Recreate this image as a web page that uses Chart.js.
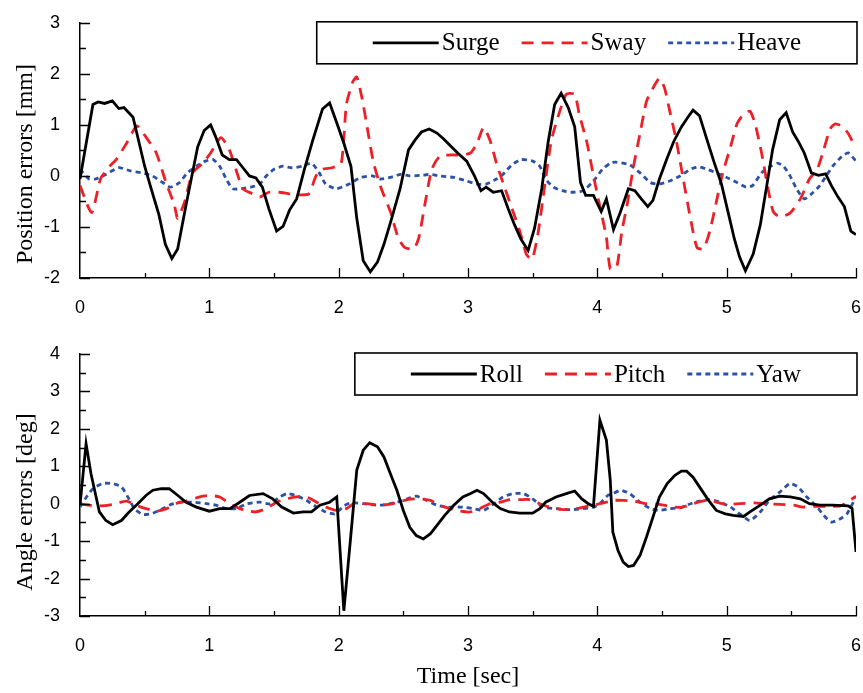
<!DOCTYPE html>
<html>
<head>
<meta charset="utf-8">
<script src="https://cdn.jsdelivr.net/npm/chart.js@4.4.1/dist/chart.umd.min.js"></script>
<style>
  html, body { margin: 0; padding: 0; background: #fff; }
  #wrap { position: relative; width: 863px; height: 693px; }
  canvas { position: absolute; left: 0; }
</style>
</head>
<body>
<div id="wrap">
  <canvas id="posChart" width="863" height="320" style="top:0px"></canvas>
  <canvas id="angChart" width="863" height="373" style="top:320px"></canvas>
</div>
<script>
// time [sec] / value pairs
const surgeT = [0,0.1,0.14,0.19,0.25,0.3,0.34,0.41,0.5,0.55,0.61,0.66,0.71,0.755,0.82,0.91,0.96,1.01,1.05,1.1,1.155,1.21,1.26,1.31,1.36,1.41,1.46,1.52,1.57,1.62,1.675,1.735,1.8,1.875,1.93,1.985,2.04,2.095,2.14,2.19,2.245,2.3,2.35,2.41,2.475,2.54,2.59,2.64,2.7,2.76,2.81,2.86,2.92,2.99,3.05,3.1,3.14,3.195,3.26,3.31,3.36,3.41,3.465,3.515,3.57,3.62,3.67,3.72,3.775,3.825,3.87,3.91,3.97,4.03,4.07,4.125,4.175,4.24,4.29,4.34,4.39,4.43,4.48,4.54,4.59,4.65,4.7,4.74,4.79,4.845,4.905,4.96,5.01,5.06,5.1,5.145,5.205,5.26,5.31,5.355,5.41,5.46,5.51,5.555,5.6,5.655,5.71,5.765,5.81,5.86,5.91,5.96,6.0];
const surgeV = [-0.06,1.4,1.45,1.42,1.47,1.32,1.34,1.15,0.19,-0.25,-0.76,-1.34,-1.62,-1.43,-0.57,0.57,0.89,1.0,0.76,0.41,0.32,0.32,0.16,0.0,-0.04,-0.22,-0.64,-1.08,-0.99,-0.67,-0.45,0.13,0.7,1.31,1.43,1.04,0.64,0.19,-0.83,-1.66,-1.88,-1.69,-1.34,-0.83,-0.25,0.51,0.7,0.86,0.92,0.84,0.73,0.6,0.45,0.29,0.0,-0.29,-0.22,-0.32,-0.29,-0.64,-0.96,-1.24,-1.46,-1.02,-0.25,0.67,1.4,1.62,1.34,0.96,-0.13,-0.38,-0.38,-0.7,-0.45,-1.05,-0.73,-0.25,-0.29,-0.45,-0.6,-0.48,-0.06,0.35,0.67,0.96,1.15,1.29,1.18,0.73,0.25,-0.16,-0.7,-1.24,-1.59,-1.86,-1.53,-0.96,-0.19,0.51,1.1,1.24,0.86,0.67,0.45,0.06,0.01,0.04,-0.19,-0.41,-0.6,-1.08,-1.15];

const swayT = [0,0.09,0.16,0.23,0.28,0.36,0.44,0.51,0.59,0.665,0.73,0.755,0.81,0.87,0.95,1.01,1.09,1.155,1.205,1.26,1.335,1.39,1.46,1.54,1.62,1.7,1.77,1.825,1.875,1.95,2.02,2.06,2.11,2.14,2.18,2.22,2.27,2.33,2.4,2.46,2.51,2.58,2.62,2.67,2.72,2.78,2.86,2.96,3.02,3.07,3.12,3.17,3.22,3.27,3.34,3.4,3.45,3.48,3.5,3.54,3.59,3.645,3.71,3.76,3.825,3.86,3.92,3.97,4.02,4.07,4.1,4.15,4.19,4.23,4.28,4.33,4.38,4.43,4.48,4.52,4.56,4.61,4.66,4.72,4.77,4.82,4.87,4.92,4.97,5.03,5.08,5.13,5.18,5.22,5.27,5.32,5.36,5.41,5.49,5.57,5.64,5.7,5.75,5.8,5.84,5.9,5.94,5.98,6.0];
const swayV = [-0.19,-0.72,-0.05,0.19,0.32,0.64,0.98,0.76,0.45,-0.13,-0.57,-0.83,-0.5,0.06,0.25,0.45,0.75,0.51,0.13,-0.25,-0.35,-0.41,-0.32,-0.32,-0.35,-0.37,-0.35,0.0,0.13,0.16,0.25,1.4,1.85,1.94,1.53,0.96,0.25,-0.25,-0.7,-1.21,-1.4,-1.43,-1.21,-0.51,0.13,0.38,0.41,0.41,0.45,0.64,0.95,0.7,0.25,-0.13,-0.64,-1.08,-1.53,-1.62,-1.62,-1.15,-0.25,0.7,1.27,1.6,1.6,1.21,0.65,0.0,-0.6,-1.2,-1.82,-1.78,-1.08,-0.57,0.19,0.83,1.46,1.72,1.91,1.72,1.27,0.7,0.0,-0.83,-1.4,-1.43,-1.08,-0.51,0.06,0.57,1.02,1.21,1.27,1.02,0.45,-0.25,-0.7,-0.8,-0.73,-0.45,-0.06,0.13,0.51,0.92,1.02,0.96,0.83,0.64,0.55];

const heaveT = [0,0.07,0.12,0.2,0.3,0.39,0.48,0.56,0.64,0.7,0.77,0.83,0.9,0.97,1.03,1.08,1.13,1.18,1.245,1.32,1.39,1.44,1.5,1.57,1.64,1.72,1.79,1.85,1.9,1.98,2.08,2.17,2.26,2.32,2.4,2.48,2.55,2.63,2.71,2.78,2.89,2.99,3.07,3.14,3.22,3.27,3.34,3.41,3.5,3.555,3.6,3.66,3.73,3.81,3.89,3.97,4.04,4.1,4.14,4.25,4.33,4.41,4.48,4.56,4.64,4.72,4.78,4.85,4.92,5.0,5.08,5.15,5.2,5.27,5.34,5.39,5.44,5.49,5.54,5.6,5.67,5.72,5.77,5.82,5.89,5.94,6.0];
const heaveV = [0.13,-0.06,-0.06,0.03,0.16,0.1,0.06,0.0,-0.13,-0.22,-0.13,0.06,0.19,0.29,0.32,0.19,-0.06,-0.25,-0.25,-0.22,-0.16,0.0,0.13,0.19,0.16,0.19,0.25,0.06,-0.16,-0.25,-0.16,-0.03,0.0,-0.06,-0.03,0.03,0.0,0.01,0.03,0.0,-0.03,-0.1,-0.16,-0.16,-0.06,0.03,0.22,0.32,0.29,0.19,-0.06,-0.22,-0.29,-0.32,-0.29,-0.1,0.13,0.25,0.27,0.22,0.06,-0.13,-0.16,-0.1,0.0,0.13,0.18,0.13,0.06,-0.03,-0.13,-0.22,-0.19,0.06,0.19,0.25,0.19,0.0,-0.25,-0.45,-0.32,-0.19,0.0,0.19,0.38,0.45,0.29];

const rollT = [0,0.047,0.085,0.15,0.2,0.253,0.32,0.38,0.447,0.51,0.563,0.628,0.69,0.757,0.82,0.9,1.0,1.08,1.16,1.235,1.31,1.416,1.49,1.56,1.65,1.726,1.79,1.855,1.93,1.985,2.04,2.09,2.14,2.19,2.24,2.3,2.35,2.4,2.45,2.5,2.55,2.6,2.655,2.71,2.76,2.82,2.89,2.96,3.02,3.07,3.12,3.2,3.25,3.32,3.4,3.5,3.555,3.6,3.68,3.76,3.825,3.88,3.93,3.97,4.02,4.07,4.1,4.12,4.16,4.2,4.24,4.28,4.33,4.38,4.43,4.48,4.54,4.6,4.65,4.69,4.74,4.79,4.86,4.92,4.99,5.05,5.13,5.18,5.26,5.33,5.41,5.49,5.57,5.64,5.72,5.82,5.94,5.97,6.0];
const rollV = [-0.04,1.6,0.8,-0.22,-0.45,-0.56,-0.45,-0.22,0.0,0.22,0.36,0.4,0.4,0.22,0.04,-0.09,-0.2,-0.13,-0.13,0.04,0.22,0.27,0.13,-0.09,-0.25,-0.22,-0.22,-0.04,0.04,0.18,-2.86,-1.0,0.9,1.43,1.63,1.52,1.25,0.8,0.36,-0.18,-0.63,-0.85,-0.94,-0.8,-0.58,-0.31,-0.04,0.18,0.27,0.36,0.27,0.0,-0.13,-0.22,-0.25,-0.25,-0.13,0.04,0.18,0.27,0.34,0.13,0.0,-0.07,2.23,1.7,0.63,-0.76,-1.25,-1.56,-1.68,-1.65,-1.38,-0.89,-0.36,0.18,0.54,0.76,0.87,0.87,0.71,0.45,0.09,-0.18,-0.27,-0.31,-0.34,-0.22,-0.04,0.13,0.2,0.18,0.13,0.0,-0.04,-0.04,-0.06,-0.13,-1.29];

const pitchT = [0,0.07,0.15,0.25,0.36,0.43,0.51,0.59,0.67,0.74,0.82,0.925,1.0,1.08,1.16,1.235,1.31,1.36,1.44,1.52,1.6,1.67,1.75,1.83,1.9,1.985,2.06,2.12,2.22,2.32,2.42,2.53,2.63,2.71,2.78,2.86,2.94,3.02,3.09,3.17,3.25,3.32,3.4,3.48,3.555,3.63,3.74,3.84,3.94,4.02,4.09,4.12,4.2,4.28,4.38,4.48,4.59,4.66,4.74,4.85,4.92,5.0,5.1,5.21,5.31,5.41,5.52,5.59,5.67,5.77,5.88,5.93,6.0];
const pitchV = [0,-0.04,-0.06,-0.02,0.07,-0.04,-0.13,-0.2,-0.13,0.0,0.07,0.18,0.22,0.18,0.0,-0.13,-0.2,-0.22,-0.13,0.04,0.13,0.18,0.18,0.04,-0.09,-0.18,-0.13,0.0,0.0,-0.04,0.0,0.11,0.13,0.09,-0.04,-0.13,-0.2,-0.22,-0.13,0.0,0.04,0.11,0.11,0.11,0.0,-0.09,-0.16,-0.13,-0.06,0.0,0.06,0.09,0.09,0.07,0.0,-0.02,-0.09,-0.09,0.0,0.09,0.04,-0.02,0.0,0.02,0.0,-0.02,-0.04,-0.09,-0.07,-0.07,-0.06,0.04,0.2];

const yawT = [0,0.05,0.1,0.175,0.25,0.32,0.37,0.42,0.486,0.55,0.615,0.69,0.77,0.87,0.98,1.05,1.13,1.21,1.29,1.39,1.47,1.545,1.6,1.67,1.75,1.83,1.9,1.97,2.04,2.1,2.19,2.32,2.45,2.53,2.6,2.68,2.76,2.84,2.96,3.04,3.12,3.2,3.27,3.35,3.43,3.5,3.58,3.68,3.79,3.89,3.97,4.02,4.08,4.11,4.18,4.25,4.33,4.41,4.48,4.56,4.64,4.72,4.79,4.87,4.95,5.03,5.1,5.18,5.26,5.33,5.41,5.49,5.55,5.62,5.7,5.75,5.81,5.88,5.93,6.0];
const yawV = [-0.09,0.18,0.4,0.54,0.54,0.45,0.18,-0.13,-0.29,-0.27,-0.18,-0.04,0.04,0.04,0.0,-0.04,-0.13,-0.13,0.0,0.04,0.0,0.18,0.27,0.22,0.09,-0.09,-0.22,-0.27,-0.06,0.03,0.0,-0.04,0.04,0.13,0.2,0.09,-0.04,-0.09,-0.09,-0.13,-0.18,0.0,0.18,0.27,0.27,0.13,-0.09,-0.13,-0.16,-0.13,-0.09,0.0,0.22,0.25,0.36,0.27,0.04,-0.13,-0.18,-0.13,-0.11,0.0,0.07,0.11,0.04,-0.09,-0.27,-0.45,-0.22,0.09,0.31,0.54,0.45,0.18,-0.09,-0.31,-0.49,-0.4,-0.27,0.18];

const xTicks = [0, 1, 2, 3, 4, 5, 6];

const RED = "rgb(236,32,38)";
const BLUE = "rgb(44,82,166)";
const SERIF = '"Liberation Serif", "Times New Roman", serif';
const SANS = '"Liberation Sans", Arial, sans-serif';

function pts(t, v) {
    return t.map((x, i) => ({ x: x, y: v[i] }));
}

function lineSet(label, t, v, color, dash, tension) {
    return {
        label: label,
        data: pts(t, v),
        borderColor: color,
        backgroundColor: color,
        borderWidth: 2.8,
        borderDash: dash,
        pointRadius: 0,
        tension: tension,
        fill: false
    };
}

// small inward ticks, like the original plot
const innerTicks = {
    id: "innerTicks",
    afterDraw(chart) {
        const ctx = chart.ctx;
        const xs = chart.scales.x, ys = chart.scales.y;
        ctx.save();
        ctx.strokeStyle = "#000";
        ctx.lineWidth = 1.3;
        ctx.beginPath();
        for (let v = ys.min; v <= ys.max + 1e-9; v += 0.5) {
            const y = Math.round(ys.getPixelForValue(v)) + 0.5;
            const len = Number.isInteger(v) ? 10 : 6;
            ctx.moveTo(xs.left, y);
            ctx.lineTo(xs.left + len, y);
        }
        for (let t = xs.min + 0.5; t <= xs.max + 1e-9; t += 0.5) {
            const x = Math.round(xs.getPixelForValue(t)) + 0.5;
            const len = Number.isInteger(t) ? 10 : 5;
            ctx.moveTo(x, ys.bottom);
            ctx.lineTo(x, ys.bottom - len);
        }
        ctx.stroke();
        ctx.restore();
    }
};

// boxed legend at the top-right of the plot area
const boxLegend = {
    id: "boxLegend",
    afterDraw(chart) {
        const ctx = chart.ctx;
        const area = chart.chartArea;
        const sets = chart.data.datasets;
        const lineLen = 66, gap = 3, spacing = 22, pad = 56, h = 42;
        ctx.save();
        ctx.font = "25px " + SERIF;
        let total = pad * 2;
        sets.forEach((d, i) => {
            total += lineLen + gap + ctx.measureText(d.label).width;
            if (i < sets.length - 1) total += spacing;
        });
        const right = area.right + 1;
        const left = right - total;
        const top = area.top - 1;
        ctx.fillStyle = "#fff";
        ctx.fillRect(left, top, total, h);
        ctx.strokeStyle = "#000";
        ctx.lineWidth = 1.6;
        ctx.strokeRect(left, top, total, h);
        const cy = top + h / 2;
        let x = left + pad;
        sets.forEach(d => {
            ctx.beginPath();
            ctx.setLineDash(d.borderDash || []);
            ctx.strokeStyle = d.borderColor;
            ctx.lineWidth = 2.8;
            ctx.moveTo(x, cy);
            ctx.lineTo(x + lineLen, cy);
            ctx.stroke();
            ctx.setLineDash([]);
            x += lineLen + gap;
            ctx.fillStyle = "#000";
            ctx.textBaseline = "middle";
            ctx.textAlign = "left";
            ctx.fillText(d.label, x, cy + 1);
            x += ctx.measureText(d.label).width + spacing;
        });
        ctx.restore();
    }
};

function yTitle(text, cy) {
    return {
        id: "yTitle",
        afterDraw(chart) {
            const ctx = chart.ctx;
            ctx.save();
            ctx.translate(32, cy);
            ctx.rotate(-Math.PI / 2);
            ctx.font = "24px " + SERIF;
            ctx.fillStyle = "#000";
            ctx.textAlign = "center";
            ctx.textBaseline = "alphabetic";
            ctx.fillText(text, 0, 0);
            ctx.restore();
        }
    };
}

function makeChart(id, datasets, yMin, yMax, padTop, xHeight, titleText, titleY, xTitle) {
    const ctx = document.getElementById(id).getContext("2d");
    return new Chart(ctx, {
        type: "line",
        data: { datasets: datasets },
        options: {
            responsive: false,
            animation: false,
            layout: { padding: { top: padTop, right: 7, left: 0, bottom: 0 } },
            plugins: { legend: { display: false }, tooltip: { enabled: false } },
            scales: {
                x: {
                    type: "linear",
                    min: 0, max: 6,
                    afterBuildTicks: s => { s.ticks = xTicks.map(v => ({ value: v })); },
                    afterFit: s => { s.height = xHeight; s.paddingRight = 0; s.paddingLeft = 0; },
                    grid: { display: false },
                    border: { display: true, color: "#000", width: 1.5 },
                    ticks: { color: "#000", font: { family: SANS, size: 18 }, padding: 11, maxRotation: 0 },
                    title: {
                        display: !!xTitle,
                        text: xTitle || "",
                        color: "#000",
                        font: { family: SERIF, size: 24, lineHeight: 1.2 },
                        padding: { top: 0, bottom: 2 }
                    }
                },
                y: {
                    min: yMin, max: yMax,
                    ticks: { stepSize: 1, color: "#000", font: { family: SANS, size: 18 }, padding: 12 },
                    afterFit: s => { s.width = 80; },
                    grid: { display: false },
                    border: { display: true, color: "#000", width: 1.5 }
                }
            }
        },
        plugins: [innerTicks, boxLegend, yTitle(titleText, titleY)]
    });
}

makeChart("posChart", [
    lineSet("Surge", surgeT, surgeV, "#000", [], 0),
    lineSet("Sway", swayT, swayV, RED, [12, 8], 0.2),
    lineSet("Heave", heaveT, heaveV, BLUE, [5, 4], 0.2)
], -2, 3, 16, 42, "Position errors [mm]", 164, null);

makeChart("angChart", [
    lineSet("Roll", rollT, rollV, "#000", [], 0),
    lineSet("Pitch", pitchT, pitchV, RED, [12, 8], 0.2),
    lineSet("Yaw", yawT, yawV, BLUE, [5, 4], 0.2)
], -3, 4, 34, 77, "Angle errors [deg]", 182, "Time [sec]");
</script>
</body>
</html>
